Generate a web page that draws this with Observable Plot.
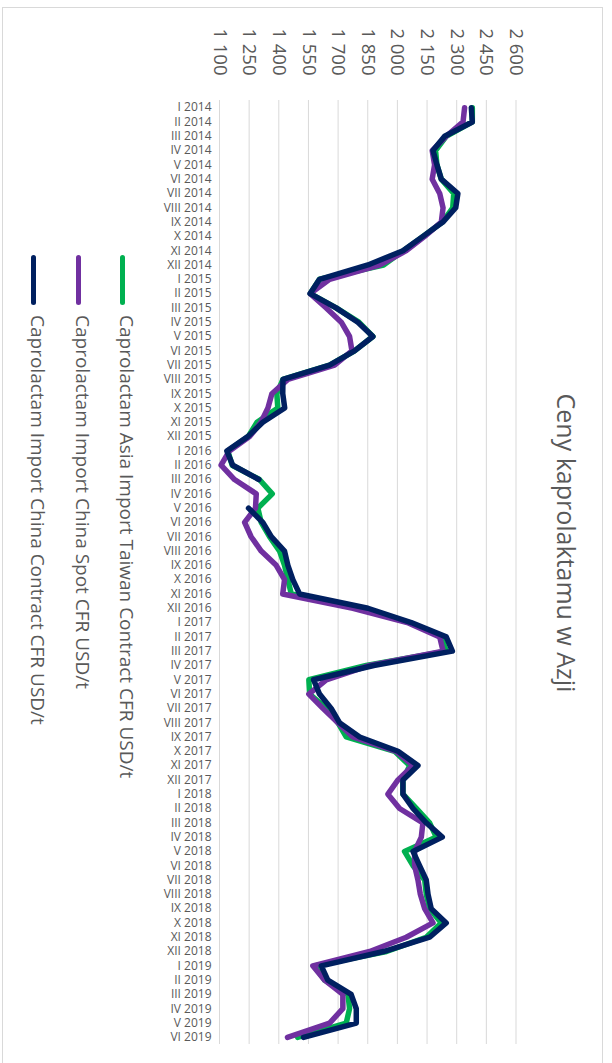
<!DOCTYPE html>
<html><head><meta charset="utf-8">
<script src="https://cdn.jsdelivr.net/npm/d3@7"></script>
<script src="https://cdn.jsdelivr.net/npm/@observablehq/plot@0.6"></script>
<style>
html,body{margin:0;padding:0;background:#fff;overflow:hidden;width:612px;height:1063px;}
#chart{position:absolute;left:0;top:0;width:1063px;height:612px;transform-origin:0 0;transform:translate(612px,0) rotate(90deg);font-family:"Open Sans",sans-serif;color:#595959;background:#fff;}
#frame{position:absolute;left:7px;top:9px;width:1200px;height:601px;border:1.5px solid #d9d9d9;box-sizing:border-box;}
#plot{position:absolute;left:0;top:0;width:1063px;height:612px;}
#title{position:absolute;left:0;width:1086px;top:33px;text-align:center;font-size:25px;line-height:25px;color:#595959;white-space:nowrap;}
.lg-line{position:absolute;left:255px;width:50px;height:5px;border-radius:2.5px;}
.lg-text{position:absolute;left:315px;font-size:19px;line-height:19px;color:#595959;white-space:nowrap;}
</style></head><body><div id="chart"><div id="frame"></div><div id="plot"></div><div id="title">Ceny kaprolaktamu w Azji</div></div>
<script>
const months = ["I","II","III","IV","V","VI","VII","VIII","IX","X","XI","XII"];
const years = [2014, 2015, 2016, 2017, 2018, 2019];
const labels = years.flatMap(y => months.map(m => `${m} ${y}`)).slice(0, 66);

const seriesNames = [
  "Caprolactam Asia Import Taiwan Contract CFR USD/t",
  "Caprolactam Import China Spot CFR USD/t",
  "Caprolactam Import China Contract CFR USD/t"
];
const seriesColors = ["#00b050", "#7030a0", "#002060"];

const taiwanContract = [
  2379, 2379, 2247, 2193, 2200, 2222, 2285, 2280, 2228, 2130, 2030, 1930,
  1606, 1559, 1690, 1805, 1876, 1783, 1657, 1421, 1390, 1395, 1290, 1245,
  1142, 1164, 1302, 1367, 1294, 1311, 1353, 1404, 1429, 1446, 1463, 1826,
  2060, 2222, 2247, 1842, 1552, 1556, 1640, 1699, 1741, 1986, 2062, 2028,
  2028, 2096, 2163, 2197, 2036, 2079, 2138, 2146, 2163, 2222, 2146, 1945,
  1581, 1632, 1750, 1758, 1741, 1495
];
const chinaSpot = [
  2340, 2332, 2247, 2176, 2188, 2176, 2214, 2231, 2222, 2138, 2045, 1910,
  1657, 1559, 1640, 1716, 1758, 1770, 1682, 1446, 1365, 1345, 1310, 1252,
  1150, 1108, 1176, 1286, 1282, 1227, 1260, 1311, 1387, 1429, 1420, 1775,
  2050, 2214, 2231, 1860, 1640, 1552, 1623, 1699, 1775, 1994, 2079, 2003,
  1952, 2011, 2129, 2121, 2087, 2087, 2104, 2116, 2138, 2180, 2045, 1860,
  1572, 1632, 1724, 1724, 1657, 1444
];
const chinaContract = [
  2374, 2379, 2239, 2180, 2200, 2222, 2306, 2295, 2230, 2129, 2028, 1851,
  1606, 1559, 1690, 1800, 1876, 1783, 1657, 1421, 1420, 1430, 1319, 1243,
  1137, 1167, 1299, null, 1247, 1319, 1362, 1429, 1446, 1471, 1505, 1851,
  2070, 2247, 2278, 1880, 1576, 1606, 1665, 1707, 1809, 2003, 2104, 2028,
  2028, 2079, 2146, 2227, 2079, 2112, 2146, 2155, 2171, 2247, 2163, 1930,
  1615, 1648, 1766, 1792, 1792, 1525
];
const yTicks = [1100, 1250, 1400, 1550, 1700, 1850, 2000, 2150, 2300, 2450, 2600];

const series = [taiwanContract, chinaSpot, chinaContract];
const fmt = d => d3.format(",")(d).replace(/,/g, " ");

const plot = Plot.plot({
  width: 1063,
  height: 612,
  marginLeft: 100,
  marginRight: 19,
  marginTop: 95.5,
  marginBottom: 220,
  style: {fontFamily: "'Open Sans', sans-serif", background: "transparent", color: "#595959", maxWidth: "none"},
  x: {type: "point", domain: labels, padding: 0.5, round: false},
  y: {domain: [1100, 2600]},
  marks: [
    Plot.gridY(yTicks, {stroke: "#d9d9d9", strokeOpacity: 1, strokeWidth: 1}),
    Plot.axisY(yTicks, {tickSize: 0, tickPadding: 25, tickFormat: fmt, fontSize: 18.5, fill: "#595959"}),
    Plot.axisX({tickRotate: -90, tickSize: 0, tickPadding: 8, fontSize: 12, fill: "#595959"}),
    ...series.map((s, k) => Plot.lineY(s, {
      x: labels, y: s, stroke: seriesColors[k], strokeWidth: 5.5,
      strokeLinecap: "round", strokeLinejoin: "round"
    }))
  ]
});
document.getElementById("plot").appendChild(plot);

const chart = document.getElementById("chart");
const legendV = [489, 533, 578];
seriesNames.forEach((name, k) => {
  const line = document.createElement("div");
  line.className = "lg-line";
  line.style.top = (legendV[k] - 2.5) + "px";
  line.style.background = seriesColors[k];
  chart.appendChild(line);
  const t = document.createElement("div");
  t.className = "lg-text";
  t.style.top = (legendV[k] - 13) + "px";
  t.textContent = name;
  chart.appendChild(t);
});
</script></body></html>
